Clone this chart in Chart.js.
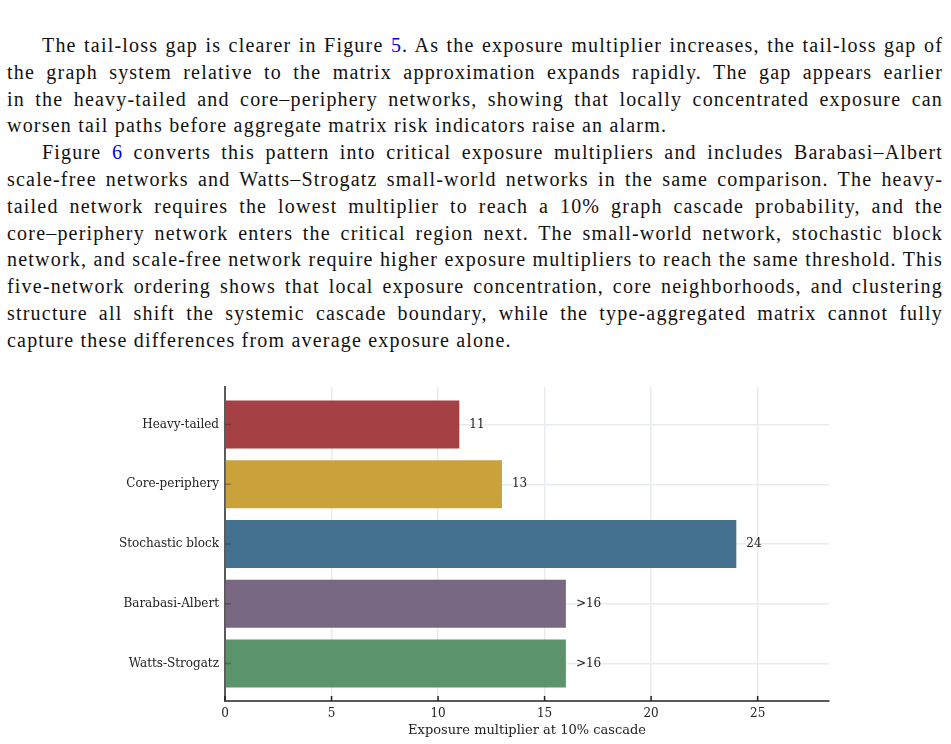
<!DOCTYPE html>
<html>
<head>
<meta charset="utf-8">
<script src="https://cdn.jsdelivr.net/npm/chart.js@4.4.1/dist/chart.umd.min.js"></script>
<style>
  html, body { margin: 0; padding: 0; background: #fff; }
  body { width: 951px; height: 744px; position: relative; overflow: hidden; }
  #text {
    position: absolute; left: 7px; top: 32px; width: 936px;
    font-family: "Liberation Serif", "Times New Roman", serif;
    font-size: 20px; line-height: 26.8px; color: #111;
    letter-spacing: 1.2px;
  }
  .ln { text-align: justify; text-align-last: justify; }
  .ln.last { text-align-last: left; }
  .ind { text-indent: 35px; }
  .ref { color: #0000ee; }
  #chartBox { position: absolute; left: 0; top: 370px; width: 951px; height: 374px; }
</style>
</head>
<body>
<div id="text">
  <div class="ln ind">The tail-loss gap is clearer in Figure <span class="ref">5</span>. As the exposure multiplier increases, the tail-loss gap of</div>
  <div class="ln">the graph system relative to the matrix approximation expands rapidly. The gap appears earlier</div>
  <div class="ln">in the heavy-tailed and core–periphery networks, showing that locally concentrated exposure can</div>
  <div class="ln last">worsen tail paths before aggregate matrix risk indicators raise an alarm.</div>
  <div class="ln ind">Figure <span class="ref">6</span> converts this pattern into critical exposure multipliers and includes Barabasi–Albert</div>
  <div class="ln">scale-free networks and Watts–Strogatz small-world networks in the same comparison. The heavy-</div>
  <div class="ln">tailed network requires the lowest multiplier to reach a 10% graph cascade probability, and the</div>
  <div class="ln">core–periphery network enters the critical region next. The small-world network, stochastic block</div>
  <div class="ln">network, and scale-free network require higher exposure multipliers to reach the same threshold. This</div>
  <div class="ln">five-network ordering shows that local exposure concentration, core neighborhoods, and clustering</div>
  <div class="ln">structure all shift the systemic cascade boundary, while the type-aggregated matrix cannot fully</div>
  <div class="ln last">capture these differences from average exposure alone.</div>
</div>
<div id="chartBox"><canvas id="cascadeChart"></canvas></div>

<script>
// data
const categories = ["Heavy-tailed", "Core-periphery", "Stochastic block", "Barabasi-Albert", "Watts-Strogatz"];
const multipliers = [11, 13, 24, 16, 16];
const valueLabels = ["11", "13", "24", ">16", ">16"];
const barColors = ["#a54044", "#c9a23c", "#44718f", "#786882", "#5b936b"];
const xTicks = [0, 5, 10, 15, 20, 25];
const xMax = 28.35;
const axisTitle = "Exposure multiplier at 10% cascade";

Chart.defaults.font.family = "'DejaVu Serif', serif";
Chart.defaults.color = "#222";

const gridColor = "#e8ebf0";

// value labels right of each bar
const barLabels = {
    id: "barLabels",
    afterDatasetsDraw(chart) {
        const ctx = chart.ctx;
        const meta = chart.getDatasetMeta(0);
        ctx.save();
        ctx.font = "12px 'DejaVu Serif', serif";
        ctx.fillStyle = "#222";
        ctx.textAlign = "left";
        ctx.textBaseline = "middle";
        meta.data.forEach((bar, i) => {
            ctx.fillText(valueLabels[i], bar.x + 10, bar.y);
        });
        ctx.restore();
    }
};

// small inward tick marks on both axes
const innerTicks = {
    id: "innerTicks",
    afterDatasetsDraw(chart) {
        const ctx = chart.ctx;
        const { left, bottom } = chart.chartArea;
        const xs = chart.scales.x, ys = chart.scales.y;
        ctx.save();
        ctx.strokeStyle = "#222";
        ctx.lineWidth = 1.5;
        xTicks.forEach(v => {
            const px = xs.getPixelForValue(v);
            ctx.beginPath();
            ctx.moveTo(px, bottom);
            ctx.lineTo(px, bottom - 5);
            ctx.stroke();
        });
        ctx.strokeStyle = "rgba(40,40,40,0.35)";
        categories.forEach((c, i) => {
            const py = ys.getPixelForValue(i);
            ctx.beginPath();
            ctx.moveTo(left, py);
            ctx.lineTo(left + 6, py);
            ctx.stroke();
        });
        ctx.restore();
    }
};

new Chart(document.getElementById("cascadeChart"), {
    type: "bar",
    data: {
        datasets: [{
            data: multipliers.map((v, i) => ({ x: v, y: i })),
            backgroundColor: barColors,
            borderWidth: 0,
            barPercentage: 0.8,
            categoryPercentage: 1.0
        }]
    },
    options: {
        indexAxis: "y",
        responsive: true,
        maintainAspectRatio: false,
        animation: false,
        layout: { padding: { left: 0, right: 122, top: 17, bottom: 0 } },
        plugins: {
            legend: { display: false },
            tooltip: { enabled: false }
        },
        scales: {
            x: {
                type: "linear",
                min: 0,
                max: xMax,
                afterBuildTicks: scale => { scale.ticks = xTicks.map(v => ({ value: v })); },
                afterFit: scale => { scale.height = 43; },
                grid: { color: gridColor, lineWidth: 1.5, drawTicks: false },
                border: { display: true, color: "#5a5a5a", width: 2 },
                ticks: { font: { size: 12 }, color: "#222", padding: 6 },
                title: {
                    display: true,
                    text: axisTitle,
                    font: { size: 13 },
                    color: "#222",
                    padding: { top: 0, bottom: 6 }
                }
            },
            y: {
                type: "linear",
                reverse: true,
                offset: false,
                min: -0.628,
                max: 4.628,
                afterBuildTicks: scale => { scale.ticks = categories.map((c, i) => ({ value: i })); },
                afterFit: scale => { scale.width = 225; },
                grid: { color: gridColor, lineWidth: 1.5, drawTicks: false, offset: false },
                border: { display: true, color: "#5a5a5a", width: 2 },
                ticks: {
                    font: { size: 12 },
                    color: "#222",
                    padding: 6,
                    callback: v => categories[v] ?? ""
                }
            }
        }
    },
    plugins: [barLabels, innerTicks]
});
</script>
</body>
</html>
